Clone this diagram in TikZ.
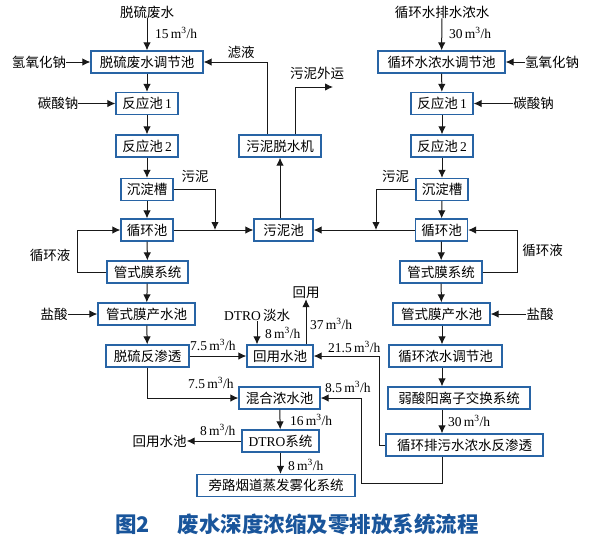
\documentclass[tikz,border=0pt]{standalone}
\usepackage{fontspec}
\setmainfont{Liberation Serif}
\newfontfamily\cjk{Noto Sans CJK SC}
\usetikzlibrary{arrows.meta,calc}
\definecolor{boxblue}{RGB}{40,100,165}
\definecolor{capblue}{RGB}{25,85,155}
\newcommand\fsz{\fontsize{13.5}{15}\selectfont}
\newcommand\mh[1]{#1\,m\textsuperscript{3}/h}
\tikzset{
  box/.style={draw=boxblue, line width=1.3pt, minimum height=22pt, inner sep=0pt, font=\cjk\fsz, fill=white},
  lbl/.style={font=\cjk\fsz, inner sep=0pt},
  flow/.style={font=\fsz, anchor=west, inner sep=0pt},
  arr/.style={-{Latex[length=8pt,width=7.5pt]}, line width=1pt, draw=black!90},
  ln/.style={line width=1pt}
}
\begin{document}
\begin{tikzpicture}[x=1pt,y=-1pt]
\useasboundingbox (0,0) rectangle (593,539);
% left column
\node[box, minimum width=112pt] (A1) at (147,62) {脱硫废水调节池};
\node[box, minimum width=62pt] (A2) at (147,103.5) {反应池\,{\rmfamily 1}};
\node[box, minimum width=62pt] (A3) at (147,146) {反应池\,{\rmfamily 2}};
\node[box, minimum width=52pt] (A4) at (147,189.5) {沉淀槽};
\node[box, minimum width=52pt] (A5) at (147,230) {循环池};
\node[box, minimum width=81pt] (A6) at (147.5,272) {管式膜系统};
\node[box, minimum width=97pt] (A7) at (146.5,314) {管式膜产水池};
\node[box, minimum width=83pt] (A8) at (147.5,356) {脱硫反渗透};
% middle
\node[box, minimum width=59pt] (M1) at (283.5,230) {污泥池};
\node[box, minimum width=82pt] (M2) at (280,146) {污泥脱水机};
\node[box, minimum width=66pt] (H) at (280,356) {回用水池};
\node[box, minimum width=81pt] (MX) at (279.5,398) {混合浓水池};
\node[box, minimum width=77pt] (D) at (280.5,441) {{\rmfamily DTRO}系统};
\node[box, minimum width=158pt] (P) at (276,485.5) {旁路烟道蒸发雾化系统};
% right column
\node[box, minimum width=127pt] (R1) at (441.5,62) {循环水浓水调节池};
\node[box, minimum width=62pt] (R2) at (442,103.5) {反应池\,{\rmfamily 1}};
\node[box, minimum width=62pt] (R3) at (442,146) {反应池\,{\rmfamily 2}};
\node[box, minimum width=52pt] (R4) at (442,189.5) {沉淀槽};
\node[box, minimum width=52pt] (R5) at (441.5,230) {循环池};
\node[box, minimum width=82pt] (R6) at (441,272) {管式膜系统};
\node[box, minimum width=97pt] (R7) at (441.5,314) {管式膜产水池};
\node[box, minimum width=113pt] (R8) at (445.5,356) {循环浓水调节池};
\node[box, minimum width=142pt] (R9) at (459,398) {弱酸阳离子交换系统};
\node[box, minimum width=157pt] (R10) at (464.5,445) {循环排污水浓水反渗透};
\coordinate (colR) at (442,0);
% text labels
\node[lbl] (t1) at (147,12) {脱硫废水};
\node[lbl] (t2) at (442,12) {循环水排水浓水};
\node[lbl] (nL) at (39,62) {氢氧化钠};
\node[lbl] (cL) at (58,103.5) {碳酸钠};
\node[lbl] (hL) at (54,314) {盐酸};
\node[lbl] (xhL) at (50,255) {循环液};
\node[lbl] (wL) at (195,176) {污泥};
\node[lbl] (ly) at (241,52) {滤液};
\node[lbl] (wy) at (317,73) {污泥外运};
\node[lbl] (nR) at (552,62) {氢氧化钠};
\node[lbl] (cR) at (533.5,103.5) {碳酸钠};
\node[lbl] (hR) at (540,314) {盐酸};
\node[lbl] (xhR) at (542.5,250) {循环液};
\node[lbl] (wR) at (395.5,176) {污泥};
\node[lbl] (dt) at (257,315) {{\rmfamily DTRO}\,淡水};
\node[lbl] (hy) at (306,293) {回用};
\node[lbl] (hyc) at (159.5,441) {回用水池};
% flow labels
\node[flow] at (155,33) {\mh{15}};
\node[flow] at (449,33) {\mh{30}};
\node[flow] at (190,345) {\mh{7.5}};
\node[flow] at (188,383) {\mh{7.5}};
\node[flow] at (265,333) {\mh{8}};
\node[flow] at (310,324) {\mh{37}};
\node[flow] at (328,347) {\mh{21.5}};
\node[flow] at (325,387) {\mh{8.5}};
\node[flow] at (290,420) {\mh{16}};
\node[flow] at (200,430) {\mh{8}};
\node[flow] at (288,465) {\mh{8}};
\node[flow] at (448,421) {\mh{30}};
% coordinates
\coordinate (xL) at (215,230);
\coordinate (xR) at (376,230);
\coordinate (e1) at (333,87);
\coordinate (k1) at (361,483);
\coordinate (k2) at (379,445);
% left connectors
\draw[arr] (t1) -- (A1);
\draw[arr] (nL) -- (A1);
\draw[arr] (A1) -- (A2);
\draw[arr] (cL) -- (A2);
\draw[arr] (A2) -- (A3);
\draw[arr] (A3) -- (A4);
\draw[arr] (A4) -- (A5);
\draw[arr] (A5) -- (A6);
\draw[arr] (A6) -- (A7);
\draw[arr] (hL) -- (A7);
\draw[arr] (A7) -- (A8);
\draw[arr] (A6.west) -- ++(-29,0) |- (A5.west);
\draw[arr] (A4.east) -| (xL);
\draw[arr] (A5) -- (M1);
% middle connectors
\draw[arr] (M1.north -| M2.south) -- (M2.south);
\draw[arr] ([xshift=-13pt]M2.north) |- (A1.east);
\draw[arr] ([xshift=15pt]M2.north) |- (e1);
% right connectors
\draw[arr] (t2) -- (R1);
\draw[arr] (nR) -- (R1);
\draw[arr] (R1) -- (R2);
\draw[arr] (cR) -- (R2);
\draw[arr] (R2) -- (R3);
\draw[arr] (R3) -- (R4);
\draw[arr] (R4) -- (R5);
\draw[arr] (R5) -- (R6);
\draw[arr] (R6) -- (R7);
\draw[arr] (hR) -- (R7);
\draw[arr] (R7.south -| colR) -- (R8.north -| colR);
\draw[arr] (R8.south -| colR) -- (R9.north -| colR);
\draw[arr] (R9.south -| colR) -- (R10.north -| colR);
\draw[arr] (R6.east) -- ++(35,0) |- (R5.east);
\draw[arr] (R4.west) -| (xR);
\draw[arr] (R5) -- (M1);
\draw[arr] (R10.west) -- (k2) |- (H.east);
\draw[arr] (R10.south -| colR) |- (k1) |- (MX.east);
% bottom connectors
\draw[arr] (A8) -- (H);
\draw[arr] (A8.south) |- (MX.west);
\draw[arr] (dt) -- (dt |- H.north);
\draw[arr] (H.north -| hy.south) -- (hy.south);
\draw[arr] (MX) -- (D);
\draw[arr] (D) -- (hyc);
\draw[arr] (D.south) -- (D.south |- P.north);
% caption
\node[font=\cjk\bfseries\fontsize{21.5}{23}\selectfont, text=capblue, inner sep=0pt] (cap) at (297,524) {图2\hspace{1.3em}废水深度浓缩及零排放系统流程};
\end{tikzpicture}
\end{document}
